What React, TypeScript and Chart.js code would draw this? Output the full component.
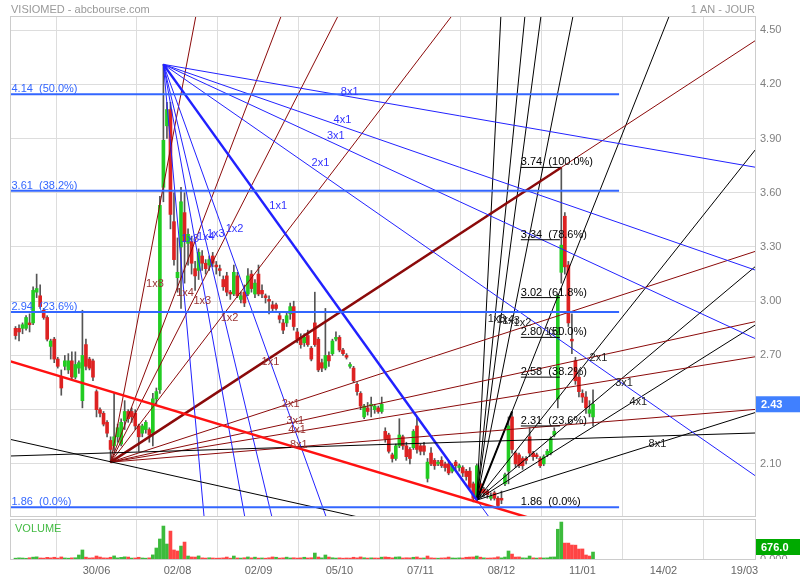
import React, { useEffect, useRef } from 'react';
import { Chart, registerables } from 'chart.js';

Chart.register(...registerables);

// ---------------- DATA ----------------
const FIRST_DAY = -23; // trading-day index of first candle (0 = 30/06)

const opens = [
  2.85, 2.85, 2.85, 2.85, 2.88, 2.88, 3.05, 3.03, 2.95, 2.91,
  2.75, 2.79, 2.68, 2.58, 2.64, 2.62, 2.67, 2.58, 2.63, 2.45,
  2.76, 2.68, 2.67, 2.50, 2.40, 2.38, 2.33, 2.23, 2.20, 2.25,
  2.21, 2.34, 2.39, 2.39, 2.38, 2.31, 2.27, 2.29, 2.29, 2.27,
  2.46, 2.51, 3.63, 3.97, 4.06, 3.44, 3.13, 3.30, 3.49, 3.32,
  3.33, 3.18, 3.17, 3.25, 3.21, 3.20, 3.25, 3.20, 3.18, 3.12,
  3.14, 3.05, 3.04, 3.14, 3.01, 3.05, 3.04, 3.15, 3.04, 3.15,
  3.06, 3.03, 3.01, 2.98, 2.98, 2.92, 2.88, 2.88, 2.93, 2.97,
  2.83, 2.80, 2.77, 2.81, 2.74, 2.88, 2.79, 2.66, 2.63, 2.70,
  2.71, 2.79, 2.80, 2.73, 2.70, 2.64, 2.63, 2.54, 2.49, 2.36,
  2.41, 2.42, 2.40, 2.41, 2.39, 2.28, 2.26, 2.15, 2.13, 2.20,
  2.25, 2.20, 2.18, 2.19, 2.31, 2.20, 2.20, 2.02, 2.16, 2.12,
  2.10, 2.12, 2.10, 2.10, 2.06, 2.11, 2.08, 2.08, 2.06, 2.06,
  1.99, 1.91, 1.99, 1.96, 1.95, 1.91, 1.94, 1.91, 1.91, 1.99,
  2.06, 2.36, 2.16, 2.15, 2.13, 2.13, 2.25, 2.16, 2.15, 2.13,
  2.10, 2.15, 2.16, 2.26, 2.46, 3.16, 3.47, 3.20, 2.79, 2.67,
  2.58, 2.49, 2.47, 2.38, 2.36,
];
const highs = [
  2.86, 2.87, 2.88, 2.92, 2.93, 3.08, 3.15, 3.09, 2.96, 2.92,
  2.79, 2.80, 2.69, 2.62, 2.70, 2.71, 2.72, 2.72, 2.67, 2.95,
  2.79, 2.69, 2.68, 2.51, 2.41, 2.39, 2.34, 2.25, 2.49, 2.32,
  2.35, 2.45, 2.40, 2.41, 2.40, 2.32, 2.32, 2.34, 2.30, 2.49,
  2.52, 3.58, 4.31, 4.10, 4.10, 3.60, 3.35, 3.63, 3.60, 3.40,
  3.36, 3.22, 3.29, 3.28, 3.23, 3.25, 3.27, 3.22, 3.20, 3.14,
  3.16, 3.06, 3.20, 3.16, 3.05, 3.09, 3.18, 3.17, 3.12, 3.20,
  3.09, 3.04, 3.03, 3.00, 2.99, 2.94, 2.90, 2.94, 2.99, 3.00,
  2.85, 2.82, 2.82, 2.84, 2.75, 3.05, 2.80, 2.68, 2.96, 2.72,
  2.79, 2.83, 2.81, 2.74, 2.71, 2.66, 2.64, 2.55, 2.50, 2.43,
  2.44, 2.47, 2.43, 2.42, 2.47, 2.30, 2.27, 2.16, 2.21, 2.35,
  2.26, 2.22, 2.19, 2.29, 2.36, 2.21, 2.22, 2.13, 2.19, 2.13,
  2.12, 2.14, 2.11, 2.12, 2.10, 2.12, 2.10, 2.09, 2.07, 2.08,
  2.00, 2.10, 2.00, 1.97, 1.96, 1.94, 1.95, 1.92, 1.95, 2.05,
  2.36, 2.39, 2.17, 2.16, 2.14, 2.14, 2.30, 2.17, 2.16, 2.14,
  2.15, 2.18, 2.25, 2.30, 3.04, 3.74, 3.49, 3.22, 2.93, 2.69,
  2.60, 2.51, 2.50, 2.45, 2.51,
];
const lows = [
  2.79, 2.78, 2.82, 2.84, 2.83, 2.87, 3.02, 2.96, 2.90, 2.78,
  2.68, 2.66, 2.63, 2.48, 2.62, 2.60, 2.57, 2.57, 2.60, 2.41,
  2.62, 2.62, 2.56, 2.36, 2.36, 2.31, 2.25, 2.11, 2.17, 2.22,
  2.20, 2.29, 2.33, 2.33, 2.29, 2.17, 2.25, 2.27, 2.22, 2.20,
  2.43, 2.49, 3.55, 3.90, 3.40, 3.20, 3.05, 2.96, 3.10, 3.20,
  3.15, 3.06, 3.12, 3.17, 3.15, 3.17, 3.19, 3.15, 3.14, 3.06,
  3.03, 3.01, 3.03, 3.02, 2.99, 2.97, 3.03, 3.05, 3.02, 3.03,
  3.02, 2.99, 2.93, 2.94, 2.95, 2.88, 2.82, 2.86, 2.90, 2.84,
  2.77, 2.74, 2.75, 2.75, 2.67, 2.75, 2.61, 2.61, 2.62, 2.64,
  2.70, 2.78, 2.72, 2.70, 2.68, 2.63, 2.55, 2.48, 2.40, 2.35,
  2.37, 2.36, 2.38, 2.38, 2.38, 2.22, 2.16, 2.11, 2.12, 2.19,
  2.18, 2.12, 2.10, 2.18, 2.16, 2.15, 2.15, 2.00, 2.09, 2.07,
  2.09, 2.08, 2.06, 2.04, 2.05, 2.07, 2.06, 2.03, 2.01, 1.96,
  1.89, 1.90, 1.92, 1.92, 1.91, 1.90, 1.90, 1.86, 1.88, 1.98,
  1.99, 2.16, 2.08, 2.08, 2.07, 2.10, 2.14, 2.12, 2.13, 2.08,
  2.09, 2.14, 2.15, 2.25, 2.41, 3.10, 3.15, 2.86, 2.71, 2.54,
  2.47, 2.44, 2.38, 2.36, 2.31,
];
const closes = [
  2.81, 2.83, 2.87, 2.91, 2.87, 3.06, 3.07, 2.97, 2.91, 2.79,
  2.78, 2.68, 2.64, 2.52, 2.67, 2.67, 2.58, 2.65, 2.66, 2.70,
  2.64, 2.63, 2.58, 2.40, 2.38, 2.32, 2.27, 2.18, 2.25, 2.30,
  2.33, 2.39, 2.35, 2.36, 2.31, 2.25, 2.31, 2.33, 2.26, 2.46,
  2.50, 3.53, 3.89, 4.06, 3.48, 3.23, 3.16, 3.55, 3.33, 3.37,
  3.21, 3.14, 3.27, 3.21, 3.18, 3.23, 3.21, 3.19, 3.17, 3.08,
  3.05, 3.04, 3.16, 3.03, 3.03, 2.99, 3.14, 3.07, 3.10, 3.04,
  3.04, 3.02, 3.00, 2.96, 2.96, 2.90, 2.84, 2.92, 2.97, 2.86,
  2.79, 2.76, 2.80, 2.76, 2.68, 2.76, 2.62, 2.63, 2.70, 2.67,
  2.78, 2.80, 2.73, 2.71, 2.69, 2.65, 2.56, 2.50, 2.42, 2.42,
  2.39, 2.43, 2.42, 2.39, 2.43, 2.24, 2.17, 2.13, 2.20, 2.26,
  2.20, 2.14, 2.13, 2.28, 2.18, 2.17, 2.17, 2.11, 2.10, 2.09,
  2.11, 2.09, 2.08, 2.05, 2.09, 2.09, 2.09, 2.05, 2.03, 1.97,
  1.91, 2.09, 1.94, 1.94, 1.93, 1.92, 1.91, 1.87, 1.90, 2.04,
  2.31, 2.18, 2.10, 2.09, 2.09, 2.12, 2.16, 2.14, 2.14, 2.09,
  2.14, 2.17, 2.24, 2.28, 3.03, 3.31, 3.19, 2.88, 2.78, 2.56,
  2.50, 2.47, 2.41, 2.40, 2.43,
];
const volumes = [
  80, 110, 95, 70, 120, 180, 210, 100, 90, 160,
  110, 170, 90, 200, 100, 80, 110, 120, 390, 880,
  180, 100, 120, 290, 190, 110, 100, 170, 300, 110,
  160, 210, 190, 90, 100, 170, 100, 80, 110, 400,
  1070, 1950, 3210, 1460, 2720, 880, 780, 1260, 1650, 290,
  200, 190, 300, 110, 90, 120, 100, 80, 90, 110,
  190, 80, 290, 100, 90, 120, 200, 110, 180, 90,
  100, 80, 120, 200, 170, 90, 110, 180, 100, 120,
  90, 110, 170, 100, 120, 580, 190, 110, 390, 190,
  120, 90, 110, 80, 100, 90, 170, 110, 200, 120,
  90, 110, 100, 90, 180, 200, 170, 110, 190, 210,
  100, 120, 110, 170, 200, 90, 100, 290, 110, 90,
  80, 100, 110, 190, 100, 90, 110, 100, 170, 190,
  200, 290, 180, 110, 90, 100, 120, 210, 110, 190,
  780, 480, 190, 200, 110, 100, 290, 110, 90, 120,
  100, 110, 190, 200, 2900, 3600, 1550, 1550, 1360, 1350,
  970, 980, 390, 290, 676,
];

const xTickDays = [0, 23, 46, 69, 92, 115, 138, 161, 184];
const xTickLabels = ['30/06', '02/08', '02/09', '05/10', '07/11', '08/12', '11/01', '14/02', '19/03'];
const priceTicks = [2.1, 2.4, 2.7, 3.0, 3.3, 3.6, 3.9, 4.2, 4.5];

const gannNames = ['8x1', '4x1', '3x1', '2x1', '1x1', '1x2', '1x3', '1x4', '1x8'];
const gannFactors = [1 / 8, 1 / 4, 1 / 3, 1 / 2, 1, 2, 3, 4, 8];

const blueFanOrigin = [19, 4.31];
const blueFanTarget = [108, 1.9];
const redFanOrigin = [4, 2.11];
const redFanTarget = [132, 3.74];
const blackFanOrigin = [108, 1.9];
const blackFanTarget = [118, 2.39];

const redTrend = [[-24.3, 2.667], [122.2, 1.806]];
const blackTrendFlat = [[-24.3, 2.144], [187, 2.271]];
const blackTrendDown = [[-24.3, 2.235], [4, 2.112]];

const blueFibValues = [4.145, 3.611, 2.94, 1.86];
const blueFibLabels = ['4.14  (50.0%)', '3.61  (38.2%)', '2.94  (23.6%)', '1.86  (0.0%)'];
const blueFibEndDay = 148.4;

const blackFibValues = [3.74, 3.34, 3.02, 2.8, 2.58, 2.31, 1.86];
const blackFibLabels = ['3.74  (100.0%)', '3.34  (78.6%)', '3.02  (61.8%)', '2.80  (50.0%)', '2.58  (38.2%)', '2.31  (23.6%)', '1.86  (0.0%)'];
const blackFibSpan = [120.5, 131.6];

// ---------------- STYLE ----------------
const X_MIN = -24.28;
const X_MAX = 187.0;
const Y_MIN = 1.812;
const Y_MAX = 4.572;
const VOL_MAX = 3800;
const FONT = '11px "Liberation Sans", Arial, sans-serif';
const GREEN = '#22cc22';
const RED = '#dd2222';
const VOL_GREEN = '#3cbb3c';
const VOL_RED = '#ff4444';
const FIB_BLUE = '#3366ff';
const FAN_BLUE = '#2222ff';
const FAN_RED = '#8b0a0a';
const GRID = '#dddddd';
const BORDER = '#cccccc';
const TICK = '#808080';

Chart.defaults.font.family = '"Liberation Sans", Arial, sans-serif';
Chart.defaults.font.size = 11;

const days = opens.map((_, i) => FIRST_DAY + i);
const lastClose = closes[closes.length - 1];

function lineDs(pts: any[], color: string, width: number) {
  return {
    type: 'line',
    data: pts,
    borderColor: color,
    backgroundColor: color,
    borderWidth: width,
    pointRadius: 0,
    pointHoverRadius: 0,
    fill: false,
    tension: 0,
    order: 0,
  };
}

function throughLine(p1: number[], p2: number[]) {
  const s = (p2[1] - p1[1]) / (p2[0] - p1[0]);
  const xa = -30, xb = 195;
  return [{ x: xa, y: p1[1] + s * (xa - p1[0]) }, { x: xb, y: p1[1] + s * (xb - p1[0]) }];
}

function fanEnd(ox: number, oy: number, s: number) {
  let ex = 195;
  const yb = s > 0 ? 6 : 0.5;
  const xb = ox + (yb - oy) / s;
  if (xb < ex) ex = xb;
  return { x: ex, y: oy + s * (ex - ox) };
}

function fanDatasets(origin: number[], target: number[], color: string, thick: number) {
  const unit = (target[1] - origin[1]) / (target[0] - origin[0]);
  const out: any[] = gannFactors.map((f) =>
    lineDs([{ x: origin[0], y: origin[1] }, fanEnd(origin[0], origin[1], unit * f)], color, 1)
  );
  out.push(lineDs([{ x: origin[0], y: origin[1] }, { x: target[0], y: target[1] }], color, thick));
  return out;
}

function drawFanLabels(ctx: any, xs: any, ys: any, origin: number[], target: number[], color: string) {
  const unit = (target[1] - origin[1]) / (target[0] - origin[0]);
  const ox = xs.getPixelForValue(origin[0]);
  const oy = ys.getPixelForValue(origin[1]);
  ctx.fillStyle = color;
  gannFactors.forEach((f, k) => {
    const px = xs.getPixelForValue(origin[0] + 1) - ox;
    const py = ys.getPixelForValue(origin[1] + unit * f) - oy;
    const len = Math.hypot(px, py);
    const ax = ox + (px / len) * 178;
    const ay = oy + (py / len) * 178;
    ctx.fillText(gannNames[k], ax + 2, ay - 3);
  });
}

const mainDecor = {
  id: 'mainDecor',
  afterDatasetsDraw(chart: any) {
    const { ctx, chartArea: a, scales } = chart;
    const xs = scales.x, ys = scales.y;
    ctx.save();
    ctx.beginPath();
    ctx.rect(a.left, a.top, a.right - a.left, a.bottom - a.top);
    ctx.clip();
    ctx.font = FONT;
    ctx.textAlign = 'left';
    ctx.textBaseline = 'alphabetic';
    ctx.fillStyle = FIB_BLUE;
    blueFibValues.forEach((v, i) => ctx.fillText(blueFibLabels[i], a.left + 0.5, ys.getPixelForValue(v) - 2));
    ctx.fillStyle = '#000';
    blackFibValues.forEach((v, i) =>
      ctx.fillText(blackFibLabels[i], xs.getPixelForValue(blackFibSpan[0]), ys.getPixelForValue(v) - 2)
    );
    ctx.textBaseline = 'middle';
    drawFanLabels(ctx, xs, ys, blueFanOrigin, blueFanTarget, '#3333ff');
    drawFanLabels(ctx, xs, ys, redFanOrigin, redFanTarget, '#993333');
    drawFanLabels(ctx, xs, ys, blackFanOrigin, blackFanTarget, '#222222');
    ctx.restore();
  },
  afterDraw(chart: any) {
    const { ctx, chartArea: a, scales } = chart;
    const ys = scales.y;
    ctx.save();
    ctx.strokeStyle = BORDER;
    ctx.lineWidth = 1;
    ctx.strokeRect(a.left - 0.5, a.top - 0.5, a.right - a.left + 1, a.bottom - a.top + 1);
    ctx.font = FONT;
    ctx.fillStyle = '#999';
    ctx.textBaseline = 'alphabetic';
    ctx.textAlign = 'left';
    ctx.fillText('VISIOMED - abcbourse.com', a.left, 13);
    ctx.textAlign = 'right';
    ctx.fillText('1 AN - JOUR', a.right, 13);
    const py = ys.getPixelForValue(lastClose);
    ctx.fillStyle = '#4080ff';
    ctx.fillRect(a.right + 1, py - 8, 45, 16);
    ctx.fillStyle = '#fff';
    ctx.font = 'bold 11px "Liberation Sans", Arial, sans-serif';
    ctx.textAlign = 'left';
    ctx.textBaseline = 'middle';
    ctx.fillText(lastClose.toFixed(2), a.right + 6, py + 0.5);
    ctx.restore();
  },
};

const volDecor = {
  id: 'volDecor',
  afterDraw(chart: any) {
    const { ctx, chartArea: a, scales } = chart;
    const ys = scales.y;
    ctx.save();
    ctx.strokeStyle = BORDER;
    ctx.lineWidth = 1;
    ctx.strokeRect(a.left - 0.5, a.top - 0.5, a.right - a.left + 1, a.bottom - a.top + 1);
    ctx.font = FONT;
    ctx.fillStyle = '#44bb44';
    ctx.textAlign = 'left';
    ctx.textBaseline = 'middle';
    ctx.fillText('VOLUME', a.left + 4, a.top + 9);
    ctx.save();
    ctx.beginPath();
    ctx.rect(a.right + 1, 0, 60, a.bottom);
    ctx.clip();
    ctx.fillStyle = TICK;
    ctx.font = FONT;
    ctx.fillText('0.000', a.right + 5, a.bottom + 1);
    ctx.restore();
    const last = volumes[volumes.length - 1];
    let py = ys.getPixelForValue(last);
    py = Math.min(py, a.bottom - 12);
    ctx.fillStyle = '#00aa00';
    ctx.fillRect(a.right + 1, py - 8, 45, 16);
    ctx.fillStyle = '#fff';
    ctx.font = 'bold 11px "Liberation Sans", Arial, sans-serif';
    ctx.fillText(last.toFixed(1), a.right + 6, py + 0.5);
    ctx.restore();
  },
};

function xScaleBase(showLabels: boolean) {
  return {
    type: 'linear',
    min: X_MIN,
    max: X_MAX,
    offset: false,
    afterBuildTicks: (s: any) => {
      s.ticks = xTickDays.map((v) => ({ value: v }));
    },
    afterFit: (s: any) => {
      s.height = showLabels ? 21 : 0;
      s.paddingLeft = 0;
      s.paddingRight = 0;
    },
    grid: { color: GRID, drawTicks: false },
    border: { display: false },
    ticks: {
      display: showLabels,
      autoSkip: false,
      maxRotation: 0,
      padding: 5,
      color: '#666',
      font: { size: 11 },
      callback: (v: any) => {
        const k = xTickDays.indexOf(Number(v));
        return k >= 0 ? xTickLabels[k] : '';
      },
    },
  };
}

function yFit(s: any) {
  s.width = 45;
  s.paddingTop = 0;
  s.paddingBottom = 0;
}

export default function App() {
  const mainRef = useRef<HTMLCanvasElement>(null);
  const volRef = useRef<HTMLCanvasElement>(null);

  useEffect(() => {
    const bodyData = days.map((d, i) => ({ x: d, y: [opens[i], closes[i]] }));
    const wickData = days.map((d, i) => ({ x: d, y: [lows[i], highs[i]] }));
    const bodyColors = days.map((_, i) => (closes[i] >= opens[i] ? GREEN : RED));

    const datasets: any[] = [];
    blueFibValues.forEach((v) => datasets.push(lineDs([{ x: X_MIN - 1, y: v }, { x: blueFibEndDay, y: v }], FIB_BLUE, 2)));
    blackFibValues.forEach((v) =>
      datasets.push(lineDs([{ x: blackFibSpan[0], y: v }, { x: blackFibSpan[1], y: v }], '#000', 1))
    );
    datasets.push(lineDs(throughLine(redTrend[0], redTrend[1]), '#ff1111', 2.5));
    datasets.push(lineDs(throughLine(blackTrendFlat[0], blackTrendFlat[1]), '#000', 1));
    datasets.push(lineDs(throughLine(blackTrendDown[0], blackTrendDown[1]), '#000', 1));
    fanDatasets(blueFanOrigin, blueFanTarget, FAN_BLUE, 2.5).forEach((d) => datasets.push(d));
    fanDatasets(redFanOrigin, redFanTarget, FAN_RED, 2.5).forEach((d) => datasets.push(d));
    fanDatasets(blackFanOrigin, blackFanTarget, '#000', 2).forEach((d) => datasets.push(d));
    datasets.push({
      type: 'bar',
      data: bodyData,
      backgroundColor: bodyColors,
      barThickness: 3,
      minBarLength: 1,
      grouped: false,
      order: 5,
    });
    datasets.push({
      type: 'bar',
      data: wickData,
      backgroundColor: '#555555',
      barThickness: 1,
      grouped: false,
      order: 6,
    });

    const main = new Chart(mainRef.current as HTMLCanvasElement, {
      type: 'bar',
      data: { datasets },
      options: {
        responsive: false,
        animation: false,
        events: [],
        layout: { autoPadding: false, padding: { top: 17, left: 11, right: 0, bottom: 4 } },
        plugins: { legend: { display: false }, tooltip: { enabled: false }, title: { display: false } },
        scales: {
          x: xScaleBase(false) as any,
          y: {
            type: 'linear',
            position: 'right',
            min: Y_MIN,
            max: Y_MAX,
            afterBuildTicks: (s: any) => {
              s.ticks = priceTicks.map((v) => ({ value: v }));
            },
            afterFit: yFit,
            grid: { color: GRID, drawTicks: false },
            border: { display: false },
            ticks: {
              padding: 5,
              color: TICK,
              font: { size: 11 },
              callback: (v: any) => (Math.abs(Number(v) - lastClose) < 0.07 ? '' : Number(v).toFixed(2)),
            },
          },
        },
      } as any,
      plugins: [mainDecor],
    } as any);

    const volColors = days.map((_, i) => (i === 0 || closes[i] >= closes[i - 1] ? VOL_GREEN : VOL_RED));
    const vol = new Chart(volRef.current as HTMLCanvasElement, {
      type: 'bar',
      data: {
        datasets: [
          {
            data: days.map((d, i) => ({ x: d, y: volumes[i] })),
            backgroundColor: volColors,
            barThickness: 3,
            grouped: false,
          },
        ],
      },
      options: {
        responsive: false,
        animation: false,
        events: [],
        layout: { autoPadding: false, padding: { top: 3, left: 11, right: 0, bottom: 0 } },
        plugins: { legend: { display: false }, tooltip: { enabled: false } },
        scales: {
          x: xScaleBase(true) as any,
          y: {
            type: 'linear',
            position: 'right',
            min: 0,
            max: VOL_MAX,
            afterFit: yFit,
            grid: { display: false },
            border: { display: false },
            ticks: { display: false },
          },
        },
      } as any,
      plugins: [volDecor],
    } as any);

    return () => {
      main.destroy();
      vol.destroy();
    };
  }, []);

  return (
    <div style={{ position: 'fixed', left: 0, top: 0, width: 800, height: 580, background: '#fff' }}>
      <canvas ref={mainRef} width={800} height={520} style={{ position: 'absolute', left: 0, top: 0 }} />
      <canvas ref={volRef} width={800} height={63} style={{ position: 'absolute', left: 0, top: 517 }} />
    </div>
  );
}
